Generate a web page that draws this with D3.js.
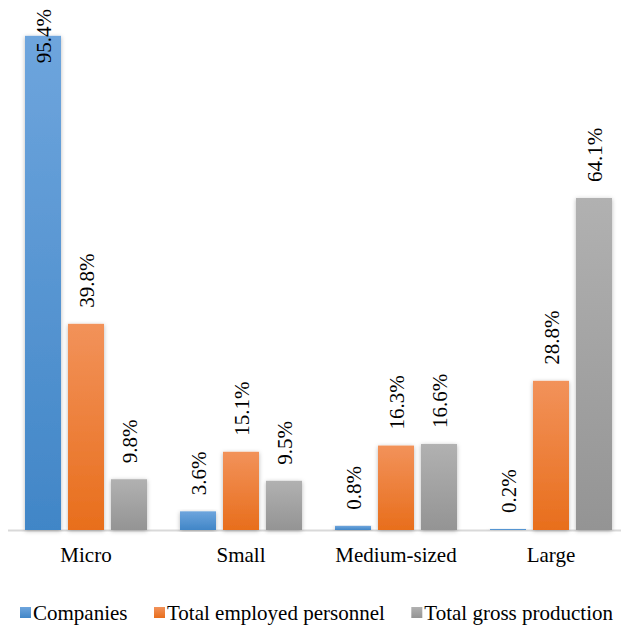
<!DOCTYPE html>
<html><head><meta charset="utf-8">
<script src="https://cdn.jsdelivr.net/npm/d3@7"></script>
</head><body style="margin:0">
<svg id="c" width="621" height="625" style="display:block"></svg>
<script>
const categories = ["Micro","Small","Medium-sized","Large"];
const series = ["Companies","Total employed personnel","Total gross production"];
const companies = [95.4, 3.6, 0.8, 0.2];
const personnel = [39.8, 15.1, 16.3, 28.8];
const production = [9.8, 9.5, 16.6, 64.1];
const values = [companies, personnel, production];
const colors = [["#6ea5dd","#4186c7"],["#f2925a","#e86e1c"],["#b1b1b1","#949494"]];
const FONT = "'Liberation Serif'";

const svg = d3.select("#c");
const defs = svg.append("defs");
colors.forEach((c,i)=>{
  const g = defs.append("linearGradient").attr("id","g"+i).attr("x1",0).attr("y1",0).attr("x2",0).attr("y2",1);
  g.append("stop").attr("offset","0%").attr("stop-color",c[0]);
  g.append("stop").attr("offset","100%").attr("stop-color",c[1]);
});
const f = defs.append("filter").attr("id","sh").attr("x","-30%").attr("y","-10%").attr("width","160%").attr("height","120%");
f.append("feDropShadow").attr("dx",0).attr("dy",1).attr("stdDeviation",2).attr("flood-color","#000").attr("flood-opacity",0.28);

const x0 = d3.scaleBand().domain(categories).range([8.5, 628.5]);
const x1 = d3.scaleBand().domain(series).range([16.5, 138.5]).paddingInner(7/43);
const y = d3.scaleLinear().domain([0,100]).range([530, 12]);

svg.append("line").attr("x1",8).attr("x2",621).attr("y1",530.5).attr("y2",530.5).attr("stroke","#d9d9d9").attr("stroke-width",2);

const data = [];
categories.forEach((c,ci)=>series.forEach((s,si)=>data.push({c,s,si,v:values[si][ci]})));

svg.append("g").selectAll("rect").data(data).join("rect")
  .attr("x",d=>x0(d.c)+x1(d.s)).attr("width",x1.bandwidth())
  .attr("y",d=>y(d.v)).attr("height",d=>y(0)-y(d.v))
  .attr("fill",d=>`url(#g${d.si})`).attr("filter","url(#sh)");

data.forEach(d=>{
  const t = svg.append("text").style("font-family",FONT).style("font-size","21px")
    .attr("fill","#000").attr("text-anchor","start").attr("dy","0.35em")
    .text(d.v.toFixed(1)+"%");
  const len = t.node().getComputedTextLength();
  let start = y(d.v) - 16;
  if (start - len < 9) start = 9 + len;
  const cx = x0(d.c)+x1(d.s)+x1.bandwidth()/2 + 1;
  t.attr("transform",`translate(${cx},${start}) rotate(-90)`);
});

categories.forEach(c=>{
  svg.append("text").attr("x",x0(c)+x0.bandwidth()/2).attr("y",562).attr("text-anchor","middle")
    .style("font-family",FONT).style("font-size","21px").attr("fill","#000").text(c);
});

let lx = 20;
series.forEach((s,i)=>{
  svg.append("rect").attr("x",lx).attr("y",607).attr("width",11).attr("height",11).attr("fill",`url(#g${i})`);
  const t = svg.append("text").attr("x",lx+13).attr("y",620)
    .style("font-family",FONT).style("font-size","21px").attr("fill","#000").text(s);
  lx += 13 + t.node().getComputedTextLength() + 26.5;
});
</script>
</body></html>
